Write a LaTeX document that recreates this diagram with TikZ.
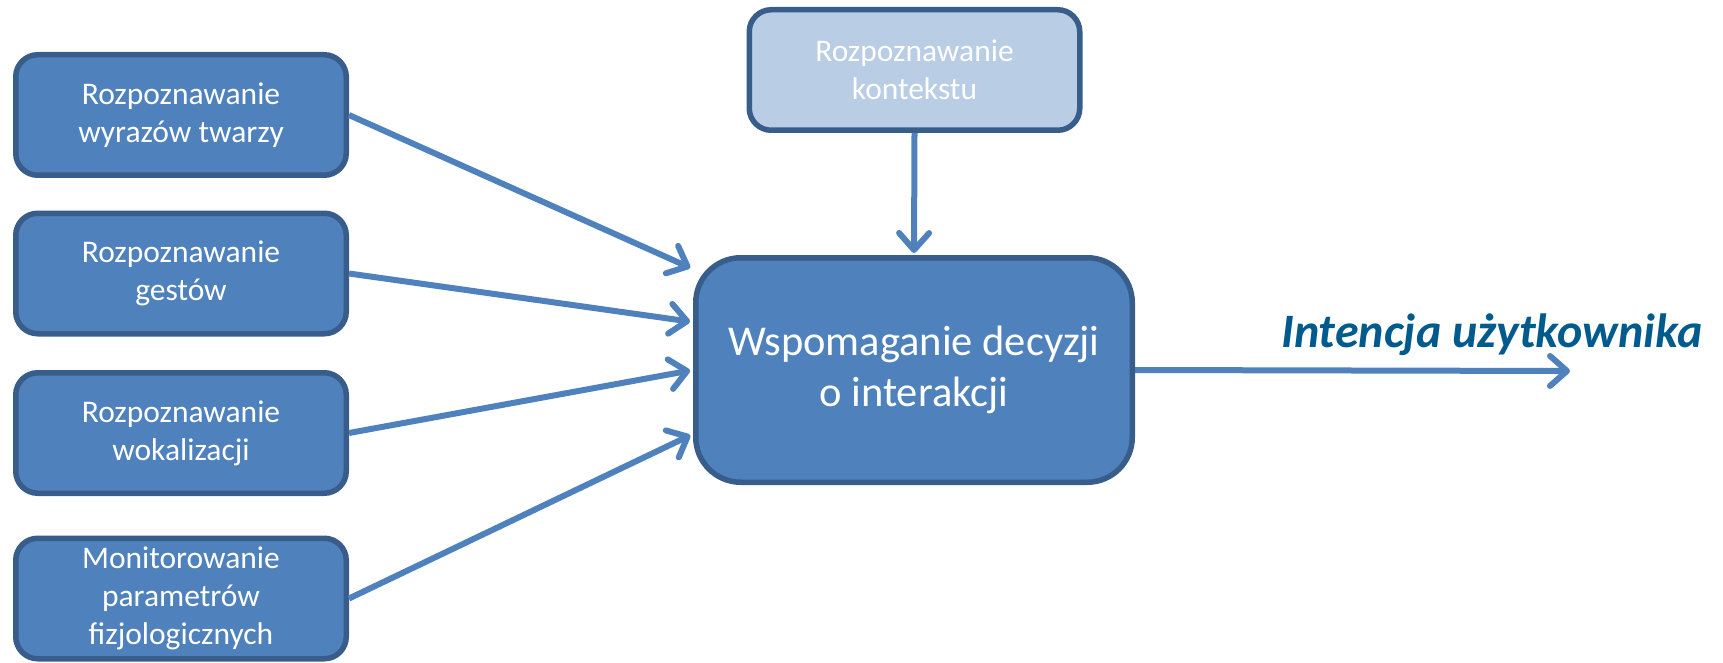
\documentclass[tikz,border=0pt]{standalone}
\usepackage{fontspec}
\setmainfont{Carlito}
\usetikzlibrary{arrows.meta}
\definecolor{boxfill}{RGB}{79,129,189}
\definecolor{boxline}{RGB}{56,93,138}
\definecolor{ctxfill}{RGB}{185,205,229}
\definecolor{labelcol}{RGB}{0,90,140}
\tikzset{
  srcbox/.style={draw=boxline, fill=boxfill, line width=5.5pt, rounded corners=22pt,
    minimum width=330.5pt, minimum height=120.5pt, text=white, align=center,
    font=\fontsize{31.5}{38}\selectfont, inner sep=0pt},
  ctxbox/.style={srcbox, fill=ctxfill},
  mainbox/.style={draw=boxline, fill=boxfill, line width=5.5pt, rounded corners=45pt,
    minimum width=436.5pt, minimum height=224.5pt, text=white, align=center,
    font=\fontsize{42.5}{51}\selectfont, inner sep=0pt},
  conn/.style={draw=boxfill, line width=6pt, -{Straight Barb[length=17pt,width=30pt,line width=6pt,round]}}
}
\begin{document}
\begin{tikzpicture}[x=1pt,y=-1pt]
\useasboundingbox (0,0) rectangle (1723,663);
\node[srcbox] (b1) at (181,115) {Rozpoznawanie\\wyrazów twarzy};
\node[srcbox] (b2) at (181,273.5) {Rozpoznawanie\\gestów};
\node[srcbox] (b3) at (181,433) {Rozpoznawanie\\wokalizacji};
\node[srcbox] (b4) at (181,598.5) {Monitorowanie\\parametrów\\fizjologicznych};
\node[ctxbox] (ctx) at (914.5,70) {Rozpoznawanie\\kontekstu};
\node[mainbox] (main) at (914,370) {Wspomaganie decyzji\\o interakcji};
\coordinate (out) at (1570,371);
\node[anchor=base east, text=labelcol, font=\fontsize{48}{56}\selectfont\bfseries\itshape, inner sep=0pt] (lab) at (1703,347) {Intencja użytkownika};
\draw[conn, shorten >=3pt] (b1.east) -- ([yshift=101pt]main.west);
\draw[conn, shorten >=3pt] (b2.east) -- ([yshift=48pt]main.west);
\draw[conn, shorten >=3pt] (b3.east) -- ([yshift=0pt]main.west);
\draw[conn, shorten >=3pt] (b4.east) -- ([yshift=-64pt]main.west);
\draw[conn, shorten >=2pt] (ctx.south) -- (main.north);
\draw[conn] (main.east) -- (out);
\end{tikzpicture}
\end{document}
